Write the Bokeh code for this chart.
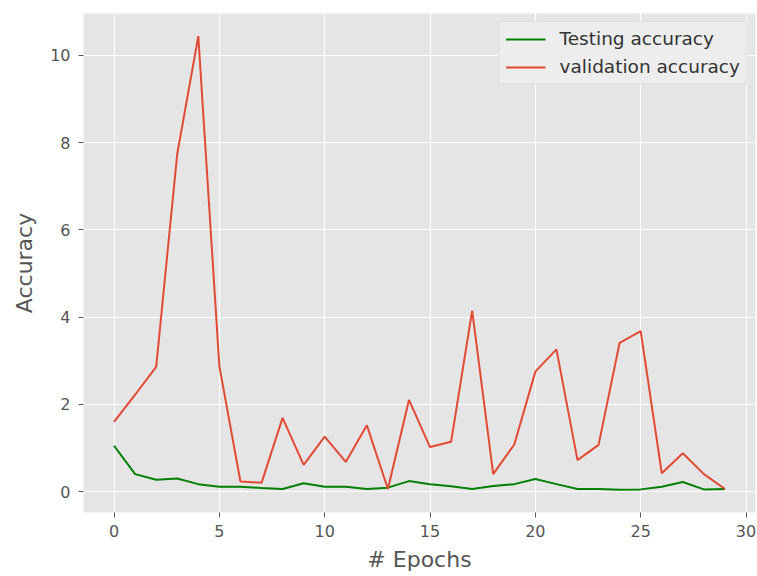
from bokeh.plotting import figure
from bokeh.models import Range1d, Legend, LegendItem, SingleIntervalTicker
from bokeh.embed import file_html
from bokeh.resources import INLINE

epochs = list(range(30))
testing_accuracy = [1.05, 0.40, 0.27, 0.30, 0.17, 0.11, 0.11, 0.08, 0.06, 0.19,
                    0.11, 0.11, 0.06, 0.09, 0.24, 0.17, 0.12, 0.06, 0.13, 0.17,
                    0.29, 0.17, 0.06, 0.06, 0.04, 0.05, 0.11, 0.22, 0.05, 0.06]
validation_accuracy = [1.60, 2.22, 2.86, 7.74, 10.44, 2.87, 0.23, 0.20, 1.69, 0.61,
                       1.26, 0.68, 1.52, 0.06, 2.10, 1.02, 1.14, 4.15, 0.40, 1.08,
                       2.75, 3.26, 0.72, 1.07, 3.41, 3.68, 0.42, 0.88, 0.40, 0.06]
x_label = "# Epochs"
y_label = "Accuracy"

xmin, xmax = min(epochs), max(epochs)
ymin = min(testing_accuracy + validation_accuracy)
ymax = max(testing_accuracy + validation_accuracy)
xpad = (xmax - xmin) * 0.05
ypad = (ymax - ymin) * 0.05

FONT = "DejaVu Sans"
TICK_COL = "#555555"

p = figure(width=757, height=576, output_backend="svg", toolbar_location=None,
           x_range=Range1d(xmin - xpad, xmax + xpad),
           y_range=Range1d(ymin - ypad, ymax + ypad),
           min_border_left=83, min_border_right=2, min_border_top=13,
           min_border_bottom=64)
p.background_fill_color = "#E5E5E5"
p.border_fill_color = "white"
p.outline_line_color = None

for ax in (p.xaxis[0], p.yaxis[0]):
    ax.axis_line_color = None
    ax.major_tick_line_color = TICK_COL
    ax.major_tick_out = 5
    ax.major_tick_in = 0
    ax.minor_tick_line_color = None
    ax.major_label_text_font = FONT
    ax.major_label_text_font_size = "16px"
    ax.major_label_text_color = TICK_COL
    ax.axis_label_text_font = FONT
    ax.axis_label_text_font_size = "22px"
    ax.axis_label_text_font_style = "normal"
    ax.axis_label_text_color = TICK_COL

p.xaxis[0].ticker = SingleIntervalTicker(interval=5)
p.yaxis[0].ticker = SingleIntervalTicker(interval=2)
p.xaxis[0].axis_label = x_label
p.yaxis[0].axis_label = y_label
p.xaxis[0].major_label_standoff = 7
p.yaxis[0].major_label_standoff = 8
p.xaxis[0].axis_label_standoff = 7
p.yaxis[0].axis_label_standoff = 10

p.xgrid.grid_line_color = "white"
p.ygrid.grid_line_color = "white"
p.xgrid.grid_line_width = 1.2
p.ygrid.grid_line_width = 1.2

r1 = p.line(epochs, testing_accuracy, line_color="#008000", line_width=2)
r2 = p.line(epochs, validation_accuracy, line_color="#E24A33", line_width=2)

legend = Legend(items=[LegendItem(label="Testing accuracy", renderers=[r1]),
                       LegendItem(label="validation accuracy", renderers=[r2])],
                location="top_right")
legend.margin = 8
legend.padding = 6
legend.spacing = 7
legend.glyph_width = 40
legend.glyph_height = 20
legend.label_standoff = 14
legend.label_text_font = FONT
legend.label_text_font_size = "18.5px"
legend.label_text_color = "#333333"
legend.background_fill_color = "#EDEDED"
legend.background_fill_alpha = 1.0
legend.border_line_color = "#CCCCCC"
legend.border_line_width = 1
p.add_layout(legend)

open("out.html", "w").write(file_html(p, INLINE))
